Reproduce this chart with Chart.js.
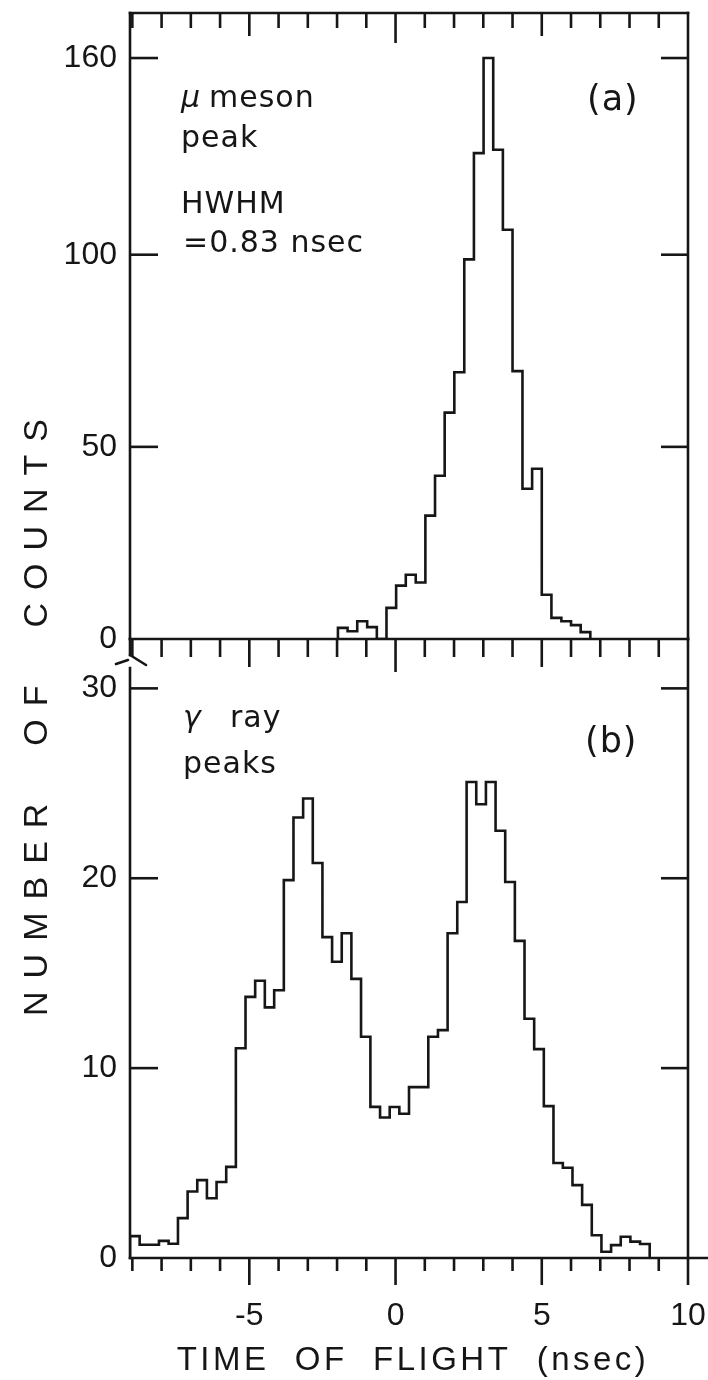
<!DOCTYPE html>
<html>
<head>
<meta charset="utf-8">
<script src="https://cdn.jsdelivr.net/npm/chart.js@4/dist/chart.umd.min.js"></script>
<style>
html,body{margin:0;padding:0;background:#fff;}
#wrap{position:relative;width:708px;height:1380px;overflow:hidden;background:#fff;}
#wrap canvas{position:absolute;left:0;top:0;}
</style>
</head>
<body>
<div id="wrap">
<canvas id="cTop" width="708" height="1380"></canvas>
<canvas id="cBot" width="708" height="1380"></canvas>
</div>
<script>
// ---------- DATA ----------
// (a) mu meson peak: histogram channel edges (ns) and counts
const muEdges = [-1.97, -1.64, -1.31, -0.97, -0.64, -0.31, 0.02, 0.35, 0.69, 1.02, 1.35, 1.68, 2.01,
                 2.35, 2.68, 3.01, 3.34, 3.67, 4.00, 4.34, 4.67, 5.00, 5.33, 5.67, 6.00, 6.33, 6.66];
const muCounts = [2.9, 2.0, 4.6, 3.1, 0, 8.1, 13.9, 16.7, 14.7, 32.1, 42.5, 58.9, 69.4,
                  98.8, 131, 160, 132, 107.6, 69.7, 39.1, 44.3, 11.5, 5.5, 4.6, 3.6, 1.8];

// (b) gamma ray peaks: histogram channel edges (ns) and counts
const gammaEdges = [-9.08, -8.75, -8.42, -8.09, -7.76, -7.44, -7.11, -6.78, -6.45, -6.12, -5.79,
                    -5.46, -5.13, -4.80, -4.47, -4.15, -3.82, -3.49, -3.16, -2.83, -2.50, -2.17,
                    -1.84, -1.51, -1.18, -0.86, -0.53, -0.20, 0.13, 0.46, 0.79, 1.12, 1.45, 1.78,
                    2.11, 2.43, 2.76, 3.09, 3.42, 3.75, 4.08, 4.41, 4.74, 5.07, 5.40, 5.72, 6.05,
                    6.38, 6.71, 7.04, 7.37, 7.70, 8.03, 8.36, 8.69];
const gammaCounts = [1.15, 0.7, 0.7, 0.9, 0.75, 2.1, 3.5, 4.1, 3.15, 4.0, 4.8, 11.05, 13.75,
                     14.6, 13.2, 14.1, 19.9, 23.2, 24.2, 20.8, 16.9, 15.6, 17.1, 14.7, 11.65,
                     7.96, 7.4, 7.95, 7.6, 9.0, 9.0, 11.65, 12.0, 17.1, 18.75, 25.07, 23.9,
                     25.07, 22.5, 19.8, 16.7, 12.6, 11.0, 8.0, 5.0, 4.75, 3.84, 2.8, 1.2,
                     0.33, 0.68, 1.12, 0.86, 0.74];

// axis ticks / labels
const xRange = [-9.08, 10];
const xLabelTicks = [-5, 0, 5, 10];
const xMinorTicks = [-9, -8, -7, -6, -5, -4, -3, -2, -1, 0, 1, 2, 3, 4, 5, 6, 7, 8, 9];
const muYTicks = [0, 50, 100, 160];
const gammaYTicks = [0, 10, 20, 30];
const xTitle = 'TIME  OF  FLIGHT  (nsec)';
const yTitle = 'NUMBER  OF  COUNTS';

// ---------- STYLE ----------
const INK = '#161616';
const FONT = '"Liberation Sans", Arial, sans-serif';
const NOTE_FONT = '"DejaVu Sans", "Liberation Sans", sans-serif';

// The upper panel's value axis in the original is compressed above 100
const LinearScale = Chart.LinearScale || Chart.registry.getScale('linear');
const BREAK_AT = 100, UPPER_RATIO = 0.853;
class BrokenLinearScale extends LinearScale {
  _fwd(v) { return v <= BREAK_AT ? v : BREAK_AT + (v - BREAK_AT) * UPPER_RATIO; }
  _inv(u) { return u <= BREAK_AT ? u : BREAK_AT + (u - BREAK_AT) / UPPER_RATIO; }
  getPixelForValue(v, i) { return (v === null || v === undefined) ? NaN : super.getPixelForValue(this._fwd(v), i); }
  getValueForPixel(p) { return this._inv(super.getValueForPixel(p)); }
}
BrokenLinearScale.id = 'brokenLinear';
BrokenLinearScale.defaults = {};
Chart.register(BrokenLinearScale);

function histPoints(edges, counts) {
  const pts = [{x: edges[0], y: 0}];
  counts.forEach((c, i) => pts.push({x: edges[i], y: c}));
  pts.push({x: edges[edges.length - 1], y: 0});
  return pts;
}
function seg(ctx, x1, y1, x2, y2) { ctx.beginPath(); ctx.moveTo(x1, y1); ctx.lineTo(x2, y2); ctx.stroke(); }
function setSpacing(ctx, s) { if ('letterSpacing' in ctx) ctx.letterSpacing = s; }
function noPad(s) { s.paddingTop = 0; s.paddingBottom = 0; s.paddingLeft = 0; s.paddingRight = 0; }

const topDecor = {
  id: 'topDecor',
  afterDraw(chart) {
    const {ctx, chartArea: a, scales: {x, y}} = chart;
    ctx.save();
    ctx.strokeStyle = INK; ctx.lineWidth = 2.6; ctx.lineCap = 'square';
    seg(ctx, a.left, a.top, a.right, a.top);
    seg(ctx, a.left, a.top, a.left, a.bottom);
    seg(ctx, a.right, a.top, a.right, a.bottom);
    seg(ctx, a.left, a.bottom, a.right, a.bottom);
    ctx.lineCap = 'butt';
    muYTicks.forEach(v => {
      if (v === 0) return;
      const py = y.getPixelForValue(v);
      seg(ctx, a.left, py, a.left + 28, py);
      seg(ctx, a.right - 27, py, a.right, py);
    });
    xMinorTicks.forEach(v => {
      const px = x.getPixelForValue(v);
      const major = xLabelTicks.includes(v);
      seg(ctx, px, a.top, px, a.top + (v === 0 ? 30 : major ? 23 : 15));
      seg(ctx, px, a.bottom, px, a.bottom + (v === 0 ? 33 : major ? 28 : 18));
    });
    // annotations
    ctx.fillStyle = INK; ctx.textBaseline = 'alphabetic'; ctx.textAlign = 'left';
    ctx.font = 'italic 30px ' + NOTE_FONT; ctx.fillText('\u03BC', 181, 107);
    ctx.font = '30px ' + NOTE_FONT; setSpacing(ctx, '1px');
    ctx.fillText('meson', 209, 107);
    ctx.fillText('peak', 181, 147);
    ctx.fillText('HWHM', 181, 213);
    ctx.fillText('=0.83 nsec', 183, 252);
    ctx.font = '35px ' + NOTE_FONT; setSpacing(ctx, '1px');
    ctx.fillText('(a)', 587, 110);
    ctx.restore();
  }
};

const botDecor = {
  id: 'botDecor',
  afterDraw(chart) {
    const {ctx, chartArea: a, scales: {x, y}} = chart;
    ctx.save();
    ctx.strokeStyle = INK; ctx.lineWidth = 2.6; ctx.lineCap = 'square';
    // left border with axis-break mark
    seg(ctx, a.left, a.top, a.left, a.top + 16);
    ctx.lineCap = 'round';
    ctx.beginPath(); ctx.moveTo(a.left, a.top + 16); ctx.lineTo(a.left + 16, a.top + 26); ctx.stroke();
    ctx.beginPath(); ctx.moveTo(a.left - 14, a.top + 25); ctx.lineTo(a.left - 2, a.top + 21); ctx.stroke();
    ctx.lineCap = 'square';
    seg(ctx, a.left, a.top + 29, a.left, a.bottom);
    seg(ctx, a.right, a.top, a.right, a.bottom);
    seg(ctx, a.left, a.bottom, chart.width, a.bottom);
    ctx.lineCap = 'butt';
    gammaYTicks.forEach(v => {
      if (v === 0) return;
      const py = y.getPixelForValue(v);
      seg(ctx, a.left, py, a.left + 28, py);
      seg(ctx, a.right - 27, py, a.right, py);
    });
    const all = Array.from(new Set(xMinorTicks.concat(xLabelTicks)));
    all.forEach(v => {
      const px = x.getPixelForValue(v);
      const major = xLabelTicks.includes(v);
      seg(ctx, px, a.bottom, px, a.bottom + (major ? 27 : 13));
    });
    // annotations
    ctx.fillStyle = INK; ctx.textBaseline = 'alphabetic'; ctx.textAlign = 'left';
    ctx.font = 'italic 30px ' + NOTE_FONT; ctx.fillText('\u03B3', 183, 727);
    ctx.font = '30px ' + NOTE_FONT; setSpacing(ctx, '1px');
    ctx.fillText('ray', 230, 727);
    ctx.fillText('peaks', 183, 773);
    ctx.font = '35px ' + NOTE_FONT; setSpacing(ctx, '1px');
    ctx.fillText('(b)', 585, 752);
    // axis titles
    ctx.font = '33px ' + FONT; setSpacing(ctx, '3.5px');
    ctx.textAlign = 'center';
    ctx.fillText(xTitle, 413, 1370);
    ctx.save();
    ctx.translate(47, 711); ctx.rotate(-Math.PI / 2);
    ctx.font = '34px ' + FONT; setSpacing(ctx, '13px');
    ctx.fillText(yTitle, 0, 0);
    ctx.restore();
    ctx.restore();
  }
};

const lineDs = (pts) => ({
  data: pts, stepped: true, borderColor: INK, borderWidth: 2.6,
  pointRadius: 0, fill: false, tension: 0
});
const tickFont = {family: FONT, size: 32};

new Chart(document.getElementById('cTop'), {
  type: 'line',
  data: {datasets: [lineDs(histPoints(muEdges, muCounts))]},
  options: {
    responsive: false, animation: false, devicePixelRatio: 1,
    layout: {autoPadding: false, padding: {top: 13, right: 20, bottom: 741, left: 0}},
    plugins: {legend: {display: false}, tooltip: {enabled: false}},
    scales: {
      x: {type: 'linear', min: xRange[0], max: xRange[1], display: false, afterFit: noPad},
      y: {
        type: 'brokenLinear', min: 0, max: 162.9, position: 'left',
        afterFit(s) { s.width = 130; noPad(s); },
        afterBuildTicks(s) { s.ticks = muYTicks.map(v => ({value: v})); },
        grid: {display: false, drawTicks: false}, border: {display: false},
        ticks: {padding: 13, color: INK, font: tickFont, callback: v => String(v)}
      }
    }
  },
  plugins: [topDecor]
});

new Chart(document.getElementById('cBot'), {
  type: 'line',
  data: {datasets: [lineDs(histPoints(gammaEdges, gammaCounts))]},
  options: {
    responsive: false, animation: false, devicePixelRatio: 1,
    layout: {autoPadding: false, padding: {top: 639, right: 20, bottom: 0, left: 0}},
    plugins: {legend: {display: false}, tooltip: {enabled: false}},
    scales: {
      x: {
        type: 'linear', min: xRange[0], max: xRange[1], position: 'bottom',
        afterFit(s) { s.height = 122; noPad(s); },
        afterBuildTicks(s) { s.ticks = xLabelTicks.map(v => ({value: v})); },
        grid: {display: false, drawTicks: false}, border: {display: false},
        ticks: {padding: 39, color: INK, font: tickFont, autoSkip: false, maxRotation: 0, callback: v => String(v)}
      },
      y: {
        type: 'linear', min: 0, max: 32.6, position: 'left',
        afterFit(s) { s.width = 130; noPad(s); },
        afterBuildTicks(s) { s.ticks = gammaYTicks.map(v => ({value: v})); },
        grid: {display: false, drawTicks: false}, border: {display: false},
        ticks: {padding: 13, color: INK, font: tickFont, callback: v => String(v)}
      }
    }
  },
  plugins: [botDecor]
});
</script>
</body>
</html>
